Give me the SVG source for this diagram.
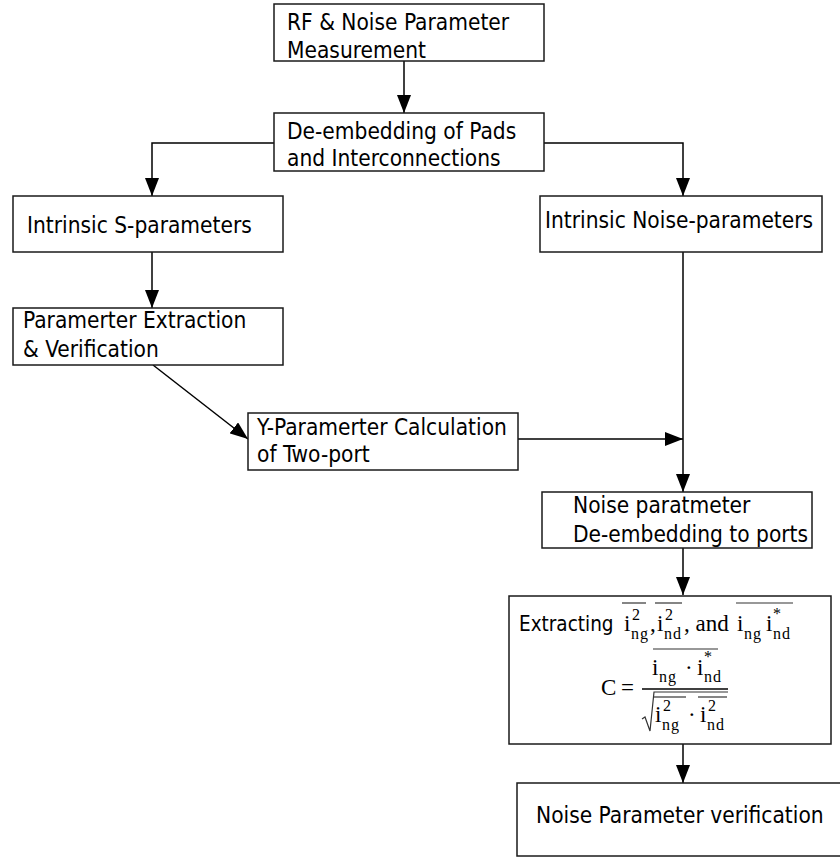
<svg xmlns="http://www.w3.org/2000/svg" width="840" height="857" viewBox="0 0 840 857">
  <style>
    .box { fill: #ffffff; stroke: #1a1a1a; stroke-width: 1.5; }
    .lbl { font-family: "DejaVu Sans Condensed", "DejaVu Sans", Verdana, sans-serif; font-stretch: condensed; font-size: 22.5px; fill: #000000; }
    .math { font-family: "Liberation Serif", "Times New Roman", serif; fill: #000000; }
    .m { font-size: 23px; }
    .s { font-size: 16px; letter-spacing: 1px; }
    .wire { fill: none; stroke: #000000; stroke-width: 1.5; }
    .bar { stroke: #333333; stroke-width: 1.2; fill: none; }
  </style>
  <defs>
    <marker id="head" markerUnits="userSpaceOnUse" markerWidth="20" markerHeight="14" refX="18" refY="7" orient="auto">
      <path d="M0,0 L18,7 L0,14 Z" fill="#000000"/>
    </marker>
  </defs>

  <rect width="840" height="857" fill="#ffffff"/>

  <!-- connectors -->
  <g id="connectors">
    <line class="wire" x1="404" y1="61" x2="404" y2="113" marker-end="url(#head)"/>
    <polyline class="wire" points="274,143 152,143 152,196" marker-end="url(#head)"/>
    <polyline class="wire" points="544,143 683,143 683,196" marker-end="url(#head)"/>
    <line class="wire" x1="152" y1="252" x2="152" y2="308" marker-end="url(#head)"/>
    <line class="wire" x1="153" y1="365" x2="248" y2="439" marker-end="url(#head)"/>
    <line class="wire" x1="518" y1="439" x2="683" y2="439" marker-end="url(#head)"/>
    <line class="wire" x1="683" y1="248" x2="683" y2="492" marker-end="url(#head)"/>
    <line class="wire" x1="683" y1="548" x2="683" y2="595" marker-end="url(#head)"/>
    <line class="wire" x1="683" y1="744" x2="683" y2="783" marker-end="url(#head)"/>
  </g>

  <g id="measurement">
    <rect class="box" x="274" y="4" width="270" height="57"/>
    <text class="lbl" x="287" y="30">RF &amp; Noise Parameter</text>
    <text class="lbl" x="287" y="58">Measurement</text>
  </g>

  <g id="deembed-pads">
    <rect class="box" x="274" y="113" width="270" height="58"/>
    <text class="lbl" x="287" y="139">De-embedding of Pads</text>
    <text class="lbl" x="287" y="166">and Interconnections</text>
  </g>

  <g id="intrinsic-s">
    <rect class="box" x="13" y="196" width="270" height="56"/>
    <text class="lbl" x="27" y="233">Intrinsic S-parameters</text>
  </g>

  <g id="intrinsic-noise">
    <rect class="box" x="540" y="196" width="282" height="56"/>
    <text class="lbl" x="545" y="228">Intrinsic Noise-parameters</text>
  </g>

  <g id="extraction">
    <rect class="box" x="13" y="308" width="270" height="57"/>
    <text class="lbl" x="23" y="328">Paramerter Extraction</text>
    <text class="lbl" x="23" y="357">&amp; Verification</text>
  </g>

  <g id="y-param">
    <rect class="box" x="248" y="413" width="270" height="57"/>
    <text class="lbl" x="257" y="435">Y-Paramerter Calculation</text>
    <text class="lbl" x="257" y="462">of Two-port</text>
  </g>

  <g id="noise-deembed">
    <rect class="box" x="542" y="492" width="270" height="56"/>
    <text class="lbl" x="573" y="513">Noise paratmeter</text>
    <text class="lbl" x="573" y="542">De-embedding to ports</text>
  </g>

  <g id="correlation">
    <rect class="box" x="509" y="596" width="322" height="148"/>
    <text class="lbl" x="519" y="631" style="font-size:20.5px">Extracting</text>
    <!-- first row: mean squares of i_ng, i_nd and the cross term -->
    <line class="bar" x1="622" y1="603" x2="646" y2="603"/>
    <line class="bar" x1="655" y1="603" x2="682" y2="603"/>
    <line class="bar" x1="736" y1="603" x2="793" y2="603"/>
    <text class="math m" x="624" y="631">i</text>
    <text class="math s" x="632" y="620">2</text>
    <text class="math s" x="631" y="639">ng</text>
    <text class="math m" x="650" y="631">,</text>
    <text class="math m" x="657" y="631">i</text>
    <text class="math s" x="665" y="620">2</text>
    <text class="math s" x="664" y="639">nd</text>
    <text class="math m" x="684" y="631">, and</text>
    <text class="math m" x="737" y="631">i</text>
    <text class="math s" x="744" y="639">ng</text>
    <text class="math m" x="766" y="631">i</text>
    <text class="math s" x="773" y="619">*</text>
    <text class="math s" x="773" y="639">nd</text>
    <!-- correlation coefficient C -->
    <text class="math m" x="601" y="695">C</text>
    <text class="math m" x="621" y="695">=</text>
    <line class="bar" x1="653" y1="649" x2="718" y2="649"/>
    <text class="math m" x="652" y="675">i</text>
    <text class="math s" x="659" y="682">ng</text>
    <text class="math m" x="685" y="675">·</text>
    <text class="math m" x="697" y="675">i</text>
    <text class="math s" x="704" y="662">*</text>
    <text class="math s" x="704" y="682">nd</text>
    <line class="wire" x1="642" y1="689" x2="728" y2="689" stroke-width="1.3"/>
    <path class="bar" d="M642,719 L645,717 L650,731 L654,692 L728,692"/>
    <line class="bar" x1="654" y1="697" x2="686" y2="697"/>
    <line class="bar" x1="698" y1="697" x2="727" y2="697"/>
    <text class="math m" x="655" y="722">i</text>
    <text class="math s" x="663" y="711">2</text>
    <text class="math s" x="662" y="730">ng</text>
    <text class="math m" x="688" y="722">·</text>
    <text class="math m" x="700" y="722">i</text>
    <text class="math s" x="708" y="711">2</text>
    <text class="math s" x="707" y="730">nd</text>
  </g>

  <g id="verification">
    <rect class="box" x="517" y="783" width="330" height="73"/>
    <text class="lbl" x="536" y="823">Noise Parameter verification</text>
  </g>
</svg>
